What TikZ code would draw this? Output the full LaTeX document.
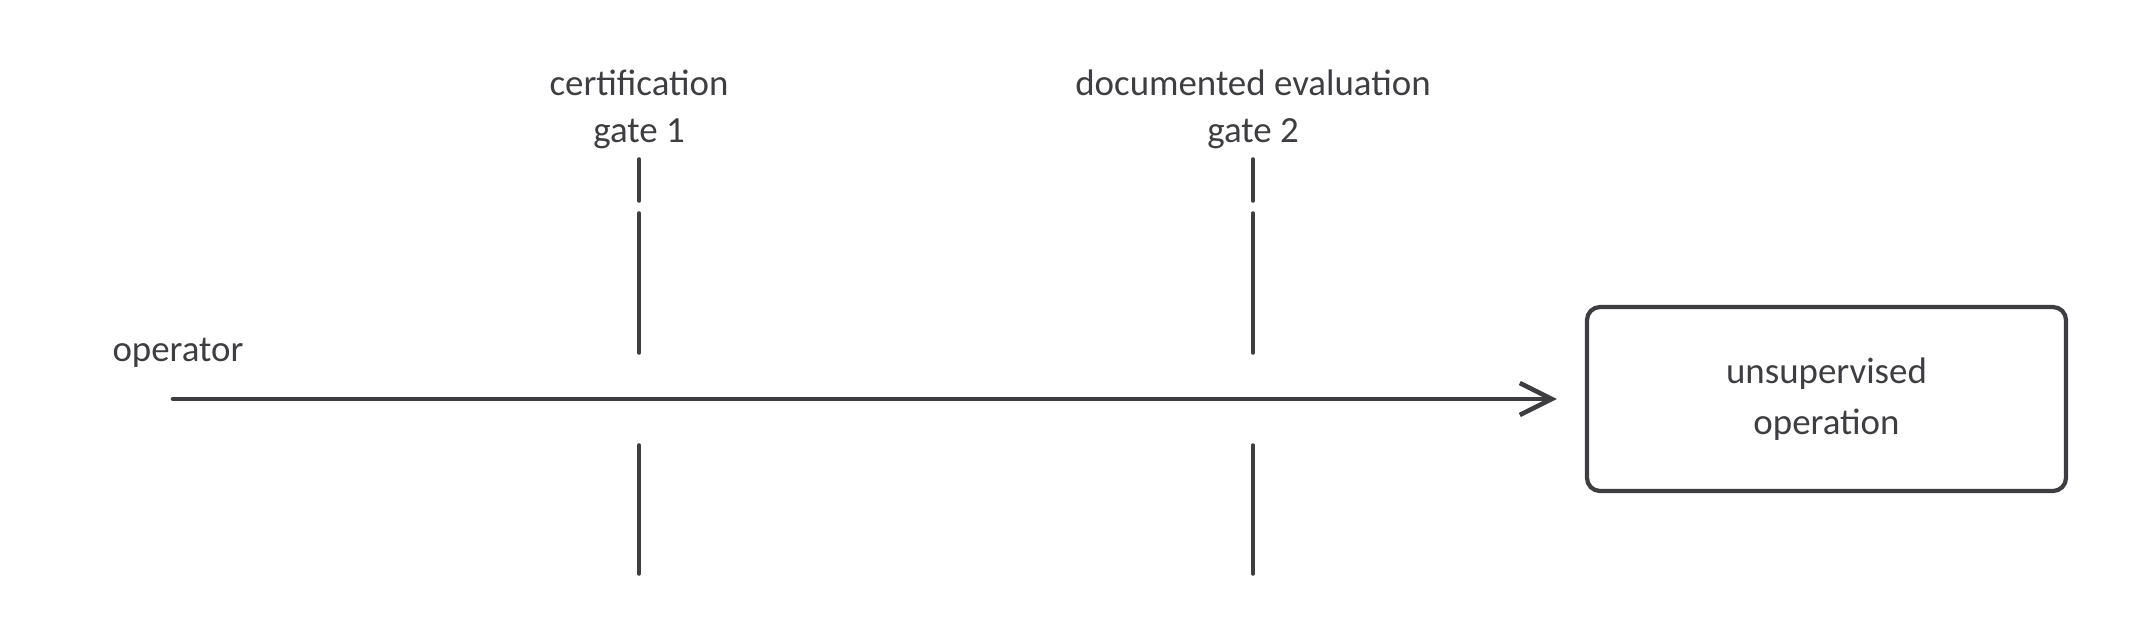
\documentclass[tikz,border=0pt]{standalone}
\usepackage{fontspec}
\setmainfont{Carlito}
\usetikzlibrary{arrows.meta}
\definecolor{ink}{RGB}{62,62,66}

\begin{document}
\begin{tikzpicture}
    \tikzstyle{gatetext} = [text=ink, font=\fontsize{10.5}{13.3}\selectfont, align=center, inner sep=0pt];
    \tikzstyle{boxtext} = [gatetext, font=\fontsize{10.5}{14.5}\selectfont];
    \tikzstyle{opbox} = [boxtext, draw=ink, line width=1.2pt, rounded corners=0.13cm, minimum width=4.79cm, minimum height=1.84cm];
    \tikzstyle{gate} = [ink, line width=1pt, line cap=round];
    \tikzstyle{flow} = [ink, line width=1.3pt, line cap=round, -{Straight Barb[length=3.2mm, width=3.2mm]}, shorten >=0.28cm];

    \useasboundingbox (0,0) rectangle (21.33,6.4);

    \node[opbox] (U) at (18.265,2.41) {unsupervised\\operation};
    \node[gatetext] (op) at (1.78,2.87) {operator};
    \coordinate (start) at (1.73,2.41);

    \foreach \g/\x/\txt in {1/6.39/certification, 2/12.53/documented evaluation} {
        \node[gatetext] (T-\g) at (\x,5.305) {\txt\\gate \g};
        \coordinate (A-\g) at (\x,4.81);
        \coordinate (B-\g) at (\x,4.39);
        \coordinate (C-\g) at (\x,4.27);
        \coordinate (D-\g) at (\x,2.87);
        \coordinate (E-\g) at (\x,1.95);
        \coordinate (F-\g) at (\x,0.66);
        \draw[gate] (A-\g) -- (B-\g);
        \draw[gate] (C-\g) -- (D-\g);
        \draw[gate] (E-\g) -- (F-\g);
    }

    \draw[flow] (start) -- (U.west);

\end{tikzpicture}
\end{document}
